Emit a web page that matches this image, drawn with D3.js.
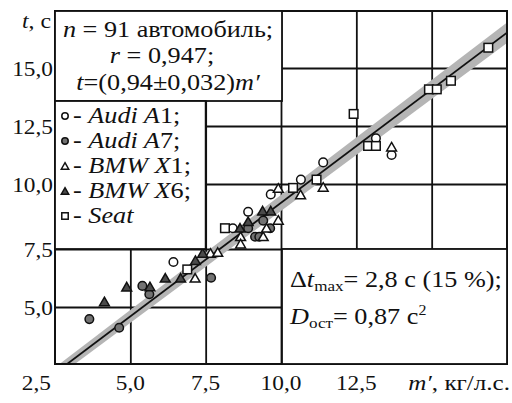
<!DOCTYPE html>
<html>
<head>
<meta charset="utf-8">
<script src="https://cdn.jsdelivr.net/npm/d3@7"></script>
</head>
<body style="margin:0;background:#fff">
<svg font-family="Liberation Serif"></svg>
<script>

margin = ({top: 11, right: 5, bottom: 39, left: 55})
var width = 512, height = 403
var serif = "Liberation Serif"

// ticks
var xTicks = [2.5, 5, 7.5, 10, 12.5, 15, 17.5]
var yTicks = [2.5, 5, 7.5, 10, 12.5, 15, 17.5]
var xTickLabels = ["2,5", "5,0", "7,5", "10,0", "12,5"]
var yTickLabels = ["5,0", "7,5", "10,0", "12,5", "15,0"]

// points: [m', t]
var audiA1 = [[6.43, 6.94], [8.40, 8.30], [8.91, 8.93], [9.66, 9.60], [10.66, 10.19],
              [11.40, 10.93], [13.15, 11.97], [13.67, 11.25]]
var audiA7 = [[3.64, 4.47], [4.63, 4.09], [5.40, 5.91], [5.63, 5.55], [7.68, 6.26],
              [8.91, 8.30], [9.41, 8.59], [9.14, 7.97], [9.28, 7.97], [9.64, 8.30]]
var bmwX1 = [[7.15, 6.24], [7.66, 7.31], [7.90, 7.35], [8.66, 7.97], [8.66, 7.69], [9.41, 7.97],
             [9.52, 8.30], [9.91, 8.60], [9.91, 9.83], [10.65, 9.58], [11.40, 9.87], [13.67, 11.59]]
var bmwX6 = [[4.14, 5.22], [4.88, 5.86], [5.65, 5.87], [6.16, 6.24], [6.67, 6.24], [7.16, 7.00],
             [7.40, 7.31], [8.64, 8.30], [8.91, 8.55], [9.39, 8.96], [9.66, 8.96]]
var seat = [[6.89, 6.62], [8.14, 8.30], [10.40, 9.85], [11.18, 10.19], [12.41, 13.02],
            [12.89, 11.64], [13.15, 11.64], [14.91, 14.08], [15.17, 14.08], [15.64, 14.45], [16.88, 15.89]]

// fitted line t = 0.94 m' as drawn, and the grey band round it
var fitM = [2.5, 17.5]
var fitT = [2.1, 16.55]
var bandLo = [1.85, 16.1]
var bandHi = [2.35, 17.0]

var svg = d3.select("svg")
            .attr("width", width)
            .attr("height", height)

var x = d3.scaleLinear()
    .domain([2.5, 17.5])
    .range([margin.left, width - margin.right])

// the scanned grid is not evenly spaced, so one segment per row
var y = d3.scaleLinear()
    .domain(yTicks)
    .range([364, 307, 249, 184, 126, 68, 11])

var plotH = y(2.5) - y(17.5)
var plotW = x(17.5) - x(2.5)

// grid
svg.append("g")
    .attr("transform", `translate(0,${y(2.5)})`)
    .call(d3.axisBottom(x).tickValues(xTicks.slice(1, -1)).tickSize(-plotH).tickFormat(""))
    .call(g => g.select(".domain").remove())
    .call(g => g.selectAll("line").attr("stroke", "#111").attr("stroke-width", 1.8))

svg.append("g")
    .attr("transform", `translate(${x(2.5)},0)`)
    .call(d3.axisLeft(y).tickValues(yTicks.slice(1, -1)).tickSize(-plotW).tickFormat(""))
    .call(g => g.select(".domain").remove())
    .call(g => g.selectAll("line").attr("stroke", "#111").attr("stroke-width", 1.8))

svg.append("clipPath").attr("id", "plot")
  .append("rect")
    .attr("x", x(2.5)).attr("y", y(17.5))
    .attr("width", plotW).attr("height", plotH)

var fit = fitM.map((m, i) => ({m: m, t: fitT[i], lo: bandLo[i], hi: bandHi[i]}))

svg.append("path")
    .datum(fit)
    .attr("clip-path", "url(#plot)")
    .attr("fill", "#b5b5b5")
    .attr("d", d3.area().x(d => x(d.m)).y0(d => y(d.lo)).y1(d => y(d.hi)))

svg.append("path")
    .datum(fit)
    .attr("clip-path", "url(#plot)")
    .attr("fill", "none")
    .attr("stroke", "#111")
    .attr("stroke-width", 1.8)
    .attr("d", d3.line().x(d => x(d.m)).y(d => y(d.t)))

// markers
var series = [
  {name: "audiA1", data: audiA1, shape: "circle", fill: "#fff"},
  {name: "audiA7", data: audiA7, shape: "circle", fill: "#727272"},
  {name: "bmwX1", data: bmwX1, shape: "triangle", fill: "#fff"},
  {name: "bmwX6", data: bmwX6, shape: "triangle", fill: "#4a4a4a"},
  {name: "seat", data: seat, shape: "square", fill: "#fff"}
]

function drawMarker(g, s, k) {
  if (s.shape == "circle") {
    g.append("circle").attr("r", 4.3 * k)
  } else if (s.shape == "triangle") {
    g.append("path").attr("d", d3.symbol(d3.symbolTriangle, 42 * k * k)()).attr("transform", "translate(0,1)")
  } else {
    g.append("rect").attr("x", -4.3 * k).attr("y", -4.3 * k).attr("width", 8.6 * k).attr("height", 8.6 * k)
  }
  g.selectAll("circle,path,rect")
    .attr("fill", s.fill)
    .attr("stroke", "#111")
    .attr("stroke-width", 1.5)
}

series.forEach(s => {
  svg.append("g").attr("class", s.name)
    .selectAll("g")
    .data(s.data)
    .join("g")
      .attr("transform", d => `translate(${x(d[0])},${y(d[1])})`)
      .each(function() { drawMarker(d3.select(this), s, 1) })
})

// frame
svg.append("rect")
    .attr("x", x(2.5)).attr("y", y(17.5))
    .attr("width", plotW).attr("height", plotH)
    .attr("fill", "none").attr("stroke", "#111").attr("stroke-width", 2)

// boxes over the grid
function box(x0, y0, x1, y1) {
  svg.append("rect")
      .attr("x", x0).attr("y", y0)
      .attr("width", x1 - x0).attr("height", y1 - y0)
      .attr("fill", "#fff").attr("stroke", "#111").attr("stroke-width", 1.8)
}
box(x(2.5), y(17.5), x(10) + 1, 101)
box(x(2.5), 101, x(7.5), y(7.5))
box(x(10) + 1, y(7.5), x(17.5), y(2.5))

// every label goes through here; the scan is a bit stretched sideways
function label(px, py, size, anchor, sx) {
  return svg.append("text")
      .attr("transform", `translate(${px},${py}) scale(${sx || 1.14},1)`)
      .attr("font-size", size)
      .attr("text-anchor", anchor || "start")
      .attr("font-family", serif)
      .style("font-family", serif)
      .attr("fill", "#111")
}

// tick labels
xTickLabels.forEach((d, i) => {
  label(x(xTicks[i]) + (i == 0 ? -4 : 0), 390, 22, i == 0 ? "end" : "middle", 1.06).text(d)
})
yTickLabels.forEach((d, i) => {
  label(x(2.5) - 2, y(yTicks[i + 1]) + 7.5, 22, "end", 1.06).text(d)
})

var tl = label(x(2.5) - 4, 28, 22, "end", 1.08)
tl.append("tspan").attr("font-style", "italic").text("t")
tl.append("tspan").text(", с")

var xl = label(510, 390, 22, "end", 1.14)
xl.append("tspan").attr("font-style", "italic").text("m′")
xl.append("tspan").text(", кг/л.с.")

// stats box
var cx = (x(2.5) + x(10)) / 2
var l1 = label(cx, 37, 23, "middle")
l1.append("tspan").attr("font-style", "italic").text("n")
l1.append("tspan").text(" = 91 автомобиль;")
var l2 = label(cx - 6, 63, 23, "middle")
l2.append("tspan").attr("font-style", "italic").text("r")
l2.append("tspan").text(" = 0,947;")
var l3 = label(cx, 90, 23, "middle")
l3.append("tspan").attr("font-style", "italic").text("t")
l3.append("tspan").text("=(0,94±0,032)")
l3.append("tspan").attr("font-style", "italic").text("m′")

// legend
var legend = [
  {s: series[0], label: ["Audi A", "1;"]},
  {s: series[1], label: ["Audi A", "7;"]},
  {s: series[2], label: ["BMW X", "1;"]},
  {s: series[3], label: ["BMW X", "6;"]},
  {s: series[4], label: ["Seat", ""]}
]
legend.forEach((d, i) => {
  var ly = 123 + i * 25
  var g = svg.append("g").attr("transform", `translate(65,${ly - 7})`)
  drawMarker(g, d.s, 0.75)
  var t = label(73, ly, 23)
  t.append("tspan").text("- ")
  t.append("tspan").attr("font-style", "italic").text(d.label[0])
  t.append("tspan").text(d.label[1])
})

// residual stats
var a1 = label(290, 287, 23)
a1.append("tspan").text("Δ")
a1.append("tspan").attr("font-style", "italic").text("t")
a1.append("tspan").attr("font-size", 15).attr("dy", 4).text("max")
a1.append("tspan").attr("dy", -4).text("= 2,8 с (15 %);")
var a2 = label(290, 324, 23)
a2.append("tspan").attr("font-style", "italic").text("D")
a2.append("tspan").attr("font-size", 15).attr("dy", 4).text("ост")
a2.append("tspan").attr("dy", -4).text("= 0,87 с")
a2.append("tspan").attr("font-size", 14).attr("dy", -9).text("2")

</script>
</body>
</html>
